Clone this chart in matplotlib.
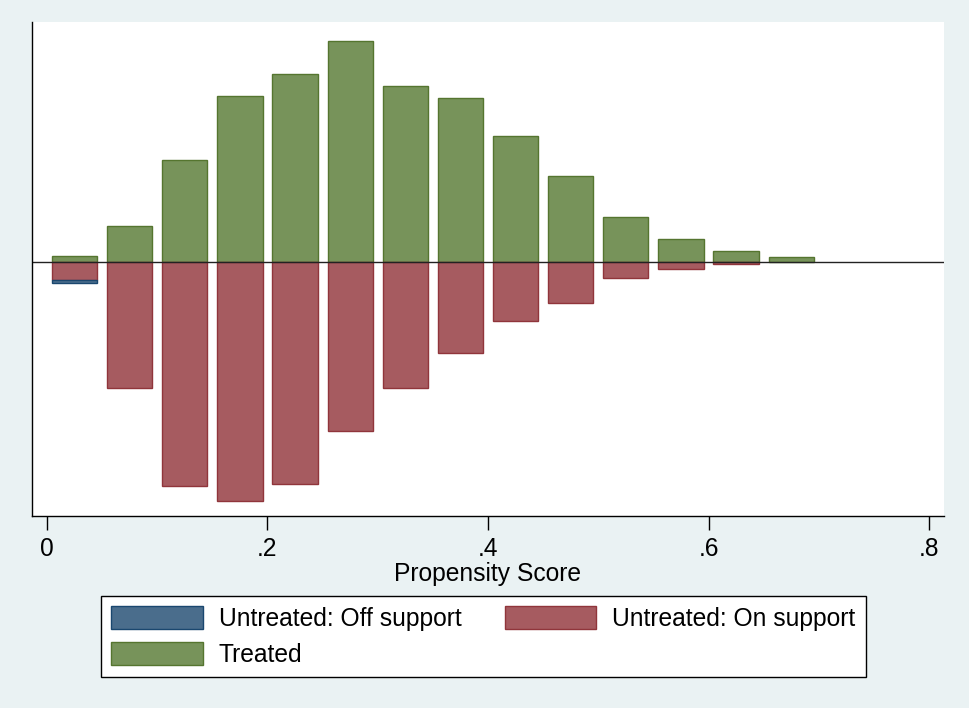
import matplotlib
matplotlib.use("Agg")
import matplotlib.pyplot as plt
from matplotlib.patches import Patch

plt.rcParams["font.family"] = ["Liberation Sans", "DejaVu Sans"]

# propensity score bins (width .05), counts per group
bin_centers = [0.025, 0.075, 0.125, 0.175, 0.225, 0.275, 0.325,
               0.375, 0.425, 0.475, 0.525, 0.575, 0.625, 0.675]
treated = [6, 36, 102, 166, 188, 221, 176, 164, 126, 86, 45, 23, 11, 5]
untreated_on = [18, 126, 224, 239, 222, 169, 126, 91, 59, 41, 16, 7, 2, 0]
untreated_off = [3, 0, 0, 0, 0, 0, 0, 0, 0, 0, 0, 0, 0, 0]

xticks = [0, 0.2, 0.4, 0.6, 0.8]
xtick_labels = ["0", ".2", ".4", ".6", ".8"]

BG = "#EAF2F3"
BLUE, BLUE_EDGE = "#4A6D8C", "#1A476F"
RED, RED_EDGE = "#A65B60", "#90353B"
GREEN, GREEN_EDGE = "#77935A", "#55752F"

fig = plt.figure(figsize=(9.69, 7.08), dpi=100, facecolor=BG)
ax = fig.add_axes([32 / 969, 1 - 516 / 708, 912 / 969, 494 / 708])
ax.set_facecolor("white")

width = 0.041


def nonzero(xs, hs, bottoms=None):
    """Keep only bins with a count, so empty bins leave no edge line."""
    if bottoms is None:
        bottoms = [0] * len(xs)
    keep = [i for i, h in enumerate(hs) if h != 0]
    return ([xs[i] for i in keep], [hs[i] for i in keep],
            [bottoms[i] for i in keep])


x, h, b = nonzero(bin_centers, treated)
ax.bar(x, h, bottom=b, width=width, color=GREEN,
       edgecolor=GREEN_EDGE, linewidth=1)

neg_on = [-v for v in untreated_on]
x, h, b = nonzero(bin_centers, neg_on)
ax.bar(x, h, bottom=b, width=width, color=RED,
       edgecolor=RED_EDGE, linewidth=1)

x, h, b = nonzero(bin_centers, [-v for v in untreated_off], neg_on)
ax.bar(x, h, bottom=b, width=width, color=BLUE,
       edgecolor=BLUE_EDGE, linewidth=1)

ax.axhline(0, color="#222222", linewidth=1)

ax.set_xlim(-0.0136, 0.8136)
ax.set_ylim(-254, 240)
ax.set_xticks(xticks)
ax.set_xticklabels(xtick_labels)
ax.set_yticks([])
ax.tick_params(axis="x", direction="out", length=10, width=1,
               pad=5, labelsize=17.7)
for side in ("top", "right"):
    ax.spines[side].set_visible(False)
for side in ("left", "bottom"):
    ax.spines[side].set_linewidth(1)
    ax.spines[side].set_color("black")
ax.set_xlabel("Propensity Score", fontsize=17.7, labelpad=1)

handles = [
    Patch(facecolor=BLUE, edgecolor=BLUE_EDGE, label="Untreated: Off support"),
    Patch(facecolor=GREEN, edgecolor=GREEN_EDGE, label="Treated"),
    Patch(facecolor=RED, edgecolor=RED_EDGE, label="Untreated: On support"),
]
leg = fig.legend(handles=handles, ncol=2, loc="upper left",
                 bbox_to_anchor=(101 / 969, 1 - 596 / 708),
                 fontsize=17.7, frameon=True, fancybox=False,
                 handlelength=3.74, handleheight=1.06, handletextpad=0.65,
                 columnspacing=1.75, labelspacing=0.48, borderpad=0.4,
                 borderaxespad=0)
leg.get_frame().set_edgecolor("black")
leg.get_frame().set_linewidth(1)
leg.get_frame().set_facecolor("white")
leg.get_frame().set_alpha(1)

fig.savefig("out.png", dpi=100, facecolor=BG)
